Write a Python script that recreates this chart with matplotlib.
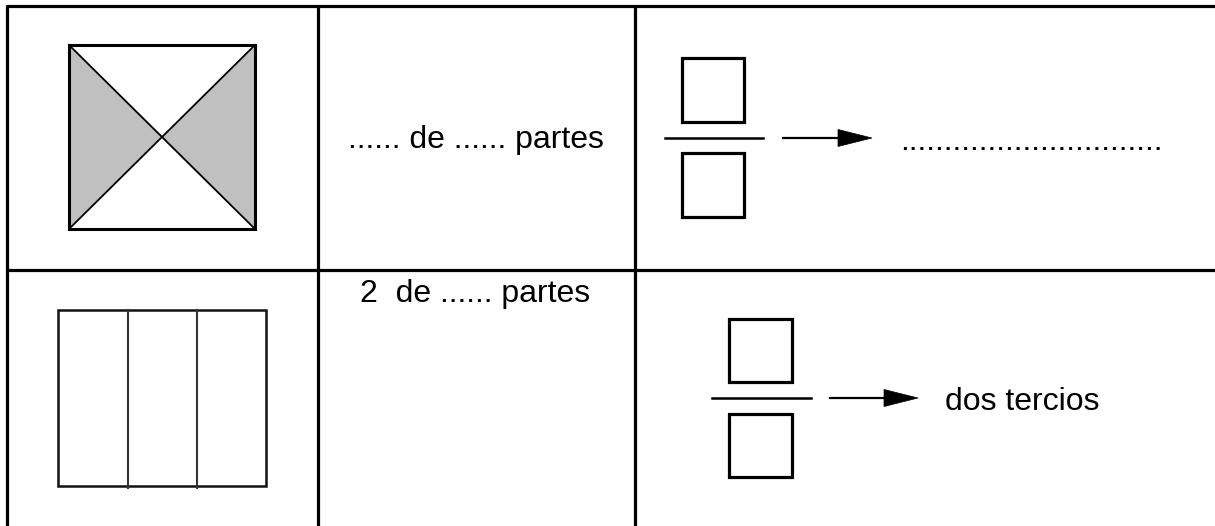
import matplotlib.pyplot as plt
import matplotlib.patches as mpatches

plt.rcParams['font.family'] = ['Liberation Sans', 'DejaVu Sans']

# textos de la tabla
texto_partes = ['...... de ...... partes', '2  de ...... partes']
texto_nombre = ['.' * 30, 'dos tercios']

# geometria de la tabla (pixeles)
W, H = 1215, 526
col_x = [7, 318, 635]
fila_y = [6, 270]

fig = plt.figure(figsize=(W / 100, H / 100), dpi=100)
ax = fig.add_axes([0, 0, 1, 1])
ax.set_xlim(0, W)
ax.set_ylim(H, 0)
ax.axis('off')

# lineas de la tabla
lw_tabla = 2.3
for y in fila_y:
    ax.plot([col_x[0] - 1, W], [y, y], color='black', lw=lw_tabla, solid_capstyle='butt')
for x in col_x:
    ax.plot([x, x], [fila_y[0] - 1, H], color='black', lw=lw_tabla, solid_capstyle='butt')

# cuadrado con diagonales (fila 1)
x0, x1, y0, y1 = 69, 255, 45, 229
cx, cy = (x0 + x1) / 2, (y0 + y1) / 2
gris = '#c0c0c0'
ax.add_patch(mpatches.Polygon([(x0, y0), (cx, cy), (x0, y1)], closed=True, fc=gris, ec='none'))
ax.add_patch(mpatches.Polygon([(x1, y0), (cx, cy), (x1, y1)], closed=True, fc=gris, ec='none'))
ax.plot([x0, x1], [y0, y1], color='black', lw=1.3)
ax.plot([x0, x1], [y1, y0], color='black', lw=1.3)
ax.add_patch(mpatches.Rectangle((x0, y0), x1 - x0, y1 - y0, fill=False, ec='black', lw=2.2))

# rectangulo en tres partes (fila 2)
rx0, rx1, ry0, ry1 = 58, 266, 310, 486
ax.add_patch(mpatches.Rectangle((rx0, ry0), rx1 - rx0, ry1 - ry0, fill=False, ec='#111111', lw=1.8))
for xd in [128, 197]:
    ax.plot([xd, xd], [ry0, ry1 + 2], color='#333333', lw=1.5)

# textos columna central
ax.text(476, 148, texto_partes[0], fontsize=23, ha='center', va='baseline')
ax.text(475, 302, texto_partes[1], fontsize=23, ha='center', va='baseline')


def fraccion(bx0, bx1, top0, top1, bot0, bot1, ly, lx0, lx1, ax0, ax1):
    for t0, t1 in [(top0, top1), (bot0, bot1)]:
        ax.add_patch(mpatches.Rectangle((bx0, t0), bx1 - bx0, t1 - t0, fill=False, ec='black', lw=2.3))
    ax.plot([lx0, lx1], [ly, ly], color='black', lw=1.8)
    # flecha
    ax.plot([ax0, ax1 - 32], [ly, ly], color='black', lw=1.6)
    ax.add_patch(mpatches.Polygon([(ax1 - 34, ly - 8.5), (ax1, ly), (ax1 - 34, ly + 8.5)],
                                  closed=True, fc='black', ec='black', lw=0.5))


fraccion(682, 744, 58, 122, 153, 217, 138, 665, 763, 783, 872)
fraccion(729, 792, 319, 382, 414, 477, 398, 712, 811, 830, 918)

ax.text(900, 150, texto_nombre[0], fontsize=23, ha='left', va='baseline')
ax.text(945, 410, texto_nombre[1], fontsize=23, ha='left', va='baseline')

fig.savefig('out.png', dpi=100)
